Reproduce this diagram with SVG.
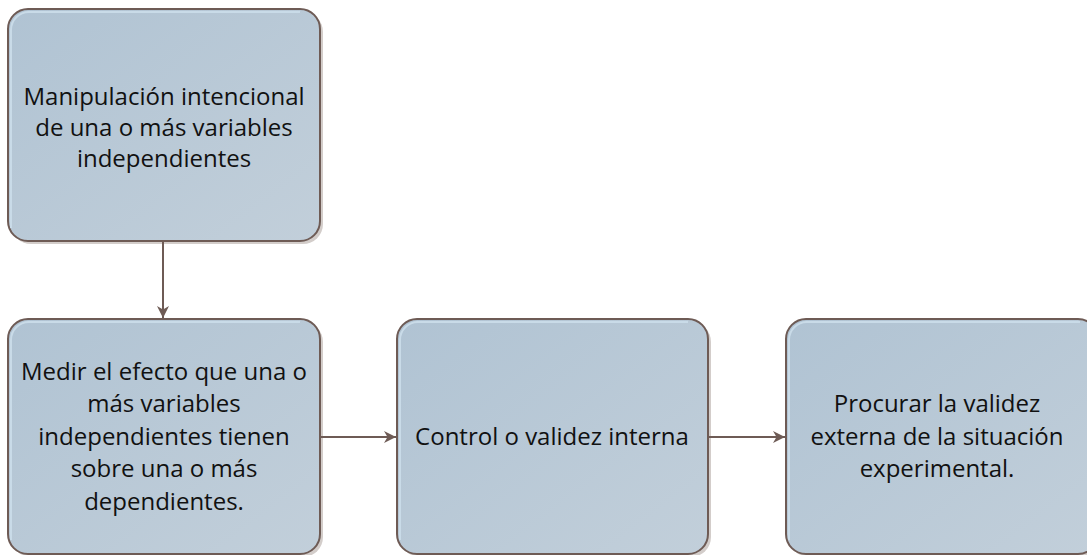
<svg xmlns="http://www.w3.org/2000/svg" width="1087" height="555" viewBox="0 0 1087 555">
<style>
.box{fill:url(#g);stroke:#6e5b55;stroke-width:2}
.hl{fill:none;stroke:#c9dbe8;stroke-width:2}
.sh{fill:#d3cdca}
.t{font-family:"Open Sans","Noto Sans",sans-serif;font-size:24px;fill:#111;text-anchor:middle}
.c{stroke:#6e5b55;stroke-width:2;fill:none;marker-end:url(#a)}
</style>
<defs>
<linearGradient id="g" x1="0" y1="0" x2="1" y2="1">
<stop offset="0" stop-color="#b0c3d3"/>
<stop offset="1" stop-color="#c2cfda"/>
</linearGradient>
<marker id="a" viewBox="0 0 12 12" refX="12" refY="6" markerWidth="12" markerHeight="12" markerUnits="userSpaceOnUse" orient="auto">
<path d="M0,0 L12,6 L0,12 L3.5,6 Z" fill="#6e5b55"/>
</marker>
</defs>
<g id="n1">
<rect class="sh" x="11" y="12" width="312" height="232" rx="20"/>
<rect class="box" x="8" y="9" width="312" height="232" rx="20"/>
<path class="hl" d="M11,228 V30 A18,18 0 0 1 29,12 H300"/>
<text class="t" x="164" y="105">Manipulación intencional</text>
<text class="t" x="164" y="136">de una o más variables</text>
<text class="t" x="164" y="167">independientes</text>
</g>
<g id="n2">
<rect class="sh" x="11" y="322" width="312" height="235" rx="20"/>
<rect class="box" x="8" y="319" width="312" height="235" rx="20"/>
<path class="hl" d="M11,540 V340 A18,18 0 0 1 29,322 H300"/>
<text class="t" x="164" y="380">Medir el efecto que una o</text>
<text class="t" x="164" y="412">más variables</text>
<text class="t" x="164" y="445">independientes tienen</text>
<text class="t" x="164" y="477">sobre una o más</text>
<text class="t" x="164" y="510">dependientes.</text>
</g>
<g id="n3">
<rect class="sh" x="400" y="322" width="311" height="235" rx="20"/>
<rect class="box" x="397" y="319" width="311" height="235" rx="20"/>
<path class="hl" d="M400,540 V340 A18,18 0 0 1 418,322 H688"/>
<text class="t" x="552" y="445">Control o validez interna</text>
</g>
<g id="n4">
<rect class="sh" x="789" y="322" width="312" height="235" rx="20"/>
<rect class="box" x="786" y="319" width="312" height="235" rx="20"/>
<path class="hl" d="M789,540 V340 A18,18 0 0 1 807,322 H1080"/>
<text class="t" x="937" y="412">Procurar la validez</text>
<text class="t" x="937" y="445">externa de la situación</text>
<text class="t" x="937" y="477">experimental.</text>
</g>
<g id="connectors">
<path class="c" d="M163,241 V318"/>
<path class="c" d="M320,437 H396"/>
<path class="c" d="M708,437 H785"/>
</g>
</svg>
